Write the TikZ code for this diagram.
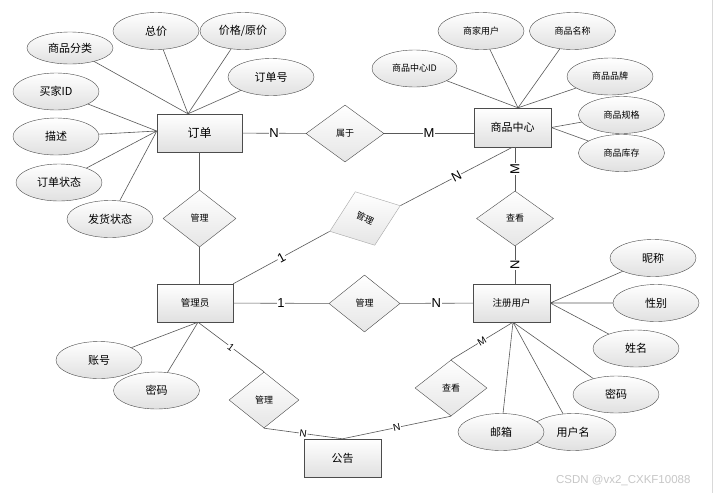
\documentclass[tikz,border=0pt]{standalone}
\usepackage{fontspec}
\newfontfamily\cjk{Noto Sans CJK SC}
\newfontfamily\lat{Liberation Sans}
\usetikzlibrary{shapes.geometric, shadows}

\tikzset{
    entity/.style={draw=black!70, top color=white, bottom color=black!12,
        minimum width=77pt, minimum height=38pt, inner sep=0pt,
        font=\cjk\fontsize{9.5}{11}\selectfont,
        drop shadow={opacity=0.25, shadow xshift=1pt, shadow yshift=-1pt}},
    attr/.style={ellipse, draw=black!70, top color=white, bottom color=black!12,
        minimum width=86pt, minimum height=37pt, inner sep=0pt,
        font=\cjk\fontsize{11}{13}\selectfont},
    rel/.style={diamond, draw=black!70, top color=white, bottom color=black!10,
        minimum width=73pt, minimum height=57pt, inner sep=0pt,
        font=\cjk\fontsize{9}{11}\selectfont},
    link/.style={draw=black!65, line width=0.6pt},
    card/.style={fill=white, inner sep=0.6pt, font=\lat\fontsize{13}{13}\selectfont},
    small card/.style={card, font=\lat\fontsize{10}{10}\selectfont}
}

\begin{document}
\begin{tikzpicture}[x=1pt, y=-1pt]
    % canvas and right frame edge
    \fill[white] (0,0) rectangle (714,493);
    \useasboundingbox (0,0) rectangle (714,493);
    \draw[black!15, line width=1pt] (712,0) -- (712,493);

    % entities
    \node[entity, minimum width=85pt,
          font=\cjk\fontsize{12}{14}\selectfont] (dd) at (199.5,133) {订单};
    \node[entity, minimum height=39pt,
          font=\cjk\fontsize{11}{13}\selectfont] (sp) at (512.5,127.5) {商品中心};
    \node[entity, minimum width=76pt] (gly) at (195,303) {管理员};
    \node[entity] (zc) at (511.5,303) {注册用户};
    \node[entity,
          font=\cjk\fontsize{11}{13}\selectfont] (gg) at (342.5,458) {公告};

    % relationships
    \node[rel, minimum width=78pt] (sy) at (345,133.5) {属于};
    \node[rel] (gl1) at (199.5,218.5) {管理};
    \node[rel, draw=black!35,
          minimum width=75pt,
          rotate=20] (gl2) at (365,218.5) {\rotatebox{-45}{管理}};
    \node[rel, minimum width=77pt,
          minimum height=55pt] (ck1) at (515,218.5) {查看};
    \node[rel, minimum width=71pt] (gl3) at (364.5,303.5) {管理};
    \node[rel, minimum width=70pt,
          minimum height=56pt] (gl4) at (264,400) {管理};
    \node[rel, minimum width=72pt,
          minimum height=56pt] (ck2) at (451,388) {查看};

    % attributes of 订单
    \node[attr, minimum height=32pt] (spfl) at (70,48) {商品分类};
    \node[attr] (zj) at (156,31) {总价};
    \node[attr] (jg) at (243,31) {价格/原价};
    \node[attr] (ddh) at (271,77) {订单号};
    \node[attr] (mjid) at (56,91.5) {买家ID};
    \node[attr] (ms) at (56,136.5) {描述};
    \node[attr] (ddzt) at (59,182.5) {订单状态};
    \node[attr] (fhzt) at (110,219) {发货状态};

    % attributes of 商品中心
    \node[attr, font=\cjk\fontsize{9}{11}\selectfont] (sjyh) at (481,31) {商家用户};
    \node[attr, font=\cjk\fontsize{9}{11}\selectfont] (spmc) at (572.5,31) {商品名称};
    \node[attr, font=\cjk\fontsize{9}{11}\selectfont,
          minimum width=85pt] (spid) at (414.5,68.5) {商品中心ID};
    \node[attr, font=\cjk\fontsize{9}{11}\selectfont] (sppp) at (610,76.5) {商品品牌};
    \node[attr, font=\cjk\fontsize{9}{11}\selectfont] (spgg) at (621.5,115) {商品规格};
    \node[attr, font=\cjk\fontsize{9}{11}\selectfont] (spkc) at (621.5,153) {商品库存};

    % attributes of 管理员
    \node[attr] (zh) at (99,360) {账号};
    \node[attr] (mm1) at (156.5,390.5) {密码};

    % attributes of 注册用户
    \node[attr] (nc) at (653,258) {昵称};
    \node[attr] (xb) at (656,303) {性别};
    \node[attr] (xm) at (636,348.5) {姓名};
    \node[attr] (mm2) at (616,394.5) {密码};
    \node[attr] (yhm) at (573,432) {用户名};
    \node[attr] (yx) at (501,432) {邮箱};

    % meeting points of the attribute lines
    \coordinate (dd-t) at ([xshift=-11.5pt]dd.north);
    \coordinate (dd-l) at ([yshift=2pt]dd.west);
    \coordinate (sp-t) at ([xshift=5.5pt]sp.north);
    \coordinate (gly-b) at ([xshift=3pt]gly.south);
    \coordinate (zc-b) at ([xshift=1.5pt]zc.south);

    % attribute lines
    \draw[link]
        (spfl) -- (dd-t)  (zj) -- (dd-t)  (jg) -- (dd-t)  (ddh) -- (dd-t)
        (mjid) -- (dd-l)  (ms) -- (dd-l)  (ddzt) -- (dd-l)  (fhzt) -- (dd-l);
    \draw[link]
        (spid) -- (sp-t)  (sjyh) -- (sp-t)  (spmc) -- (sp-t)  (sppp) -- (sp-t)
        (spgg) -- (sp.east)  (spkc) -- (sp.east);
    \draw[link] (zh) -- (gly-b)  (mm1) -- (gly-b);
    \draw[link]
        (nc) -- (zc.east)  (xb) -- (zc.east)  (xm) -- (zc.east)
        (mm2) -- (zc-b)  (yhm) -- (zc-b)  (yx) -- (zc-b);

    % relationship lines
    \draw[link] (dd) -- node[card] {N} (sy);
    \draw[link] (sy.east) -- node[card] {M} (sy.east -| sp.west);
    \draw[link] (dd.south) -- (gl1.north);
    \draw[link] (gl1.south) -- (gl1.south |- gly.north);
    \draw[link] (gly.north east) -- node[card, sloped] {1} (gl2.west);
    \draw[link] (gl2.east) -- node[card, sloped] {N} (sp.south);
    \draw[link] (ck1.north |- sp.south) -- node[card, rotate=90] {M} (ck1.north);
    \draw[link] (ck1.south) -- node[card, rotate=90] {N} (ck1.south |- zc.north);
    \draw[link] (gly) -- node[card] {1} (gl3);
    \draw[link] (gl3) -- node[card] {N} (zc);
    \draw[link] (gly-b) -- node[small card, sloped] {1} (gl4.north);
    \draw[link] (gl4.south) -- node[small card, sloped] {N} (gg.north);
    \draw[link] (ck2.north) -- node[small card, sloped] {M} (zc-b);
    \draw[link] (ck2.south) -- node[small card, sloped] {N} (gg.north);

    % watermark
    \node[anchor=east, text=black!22,
          font=\lat\fontsize{11.5}{12}\selectfont] (wm) at (694,480) {CSDN @vx2\_CXKF10088};
\end{tikzpicture}
\end{document}
